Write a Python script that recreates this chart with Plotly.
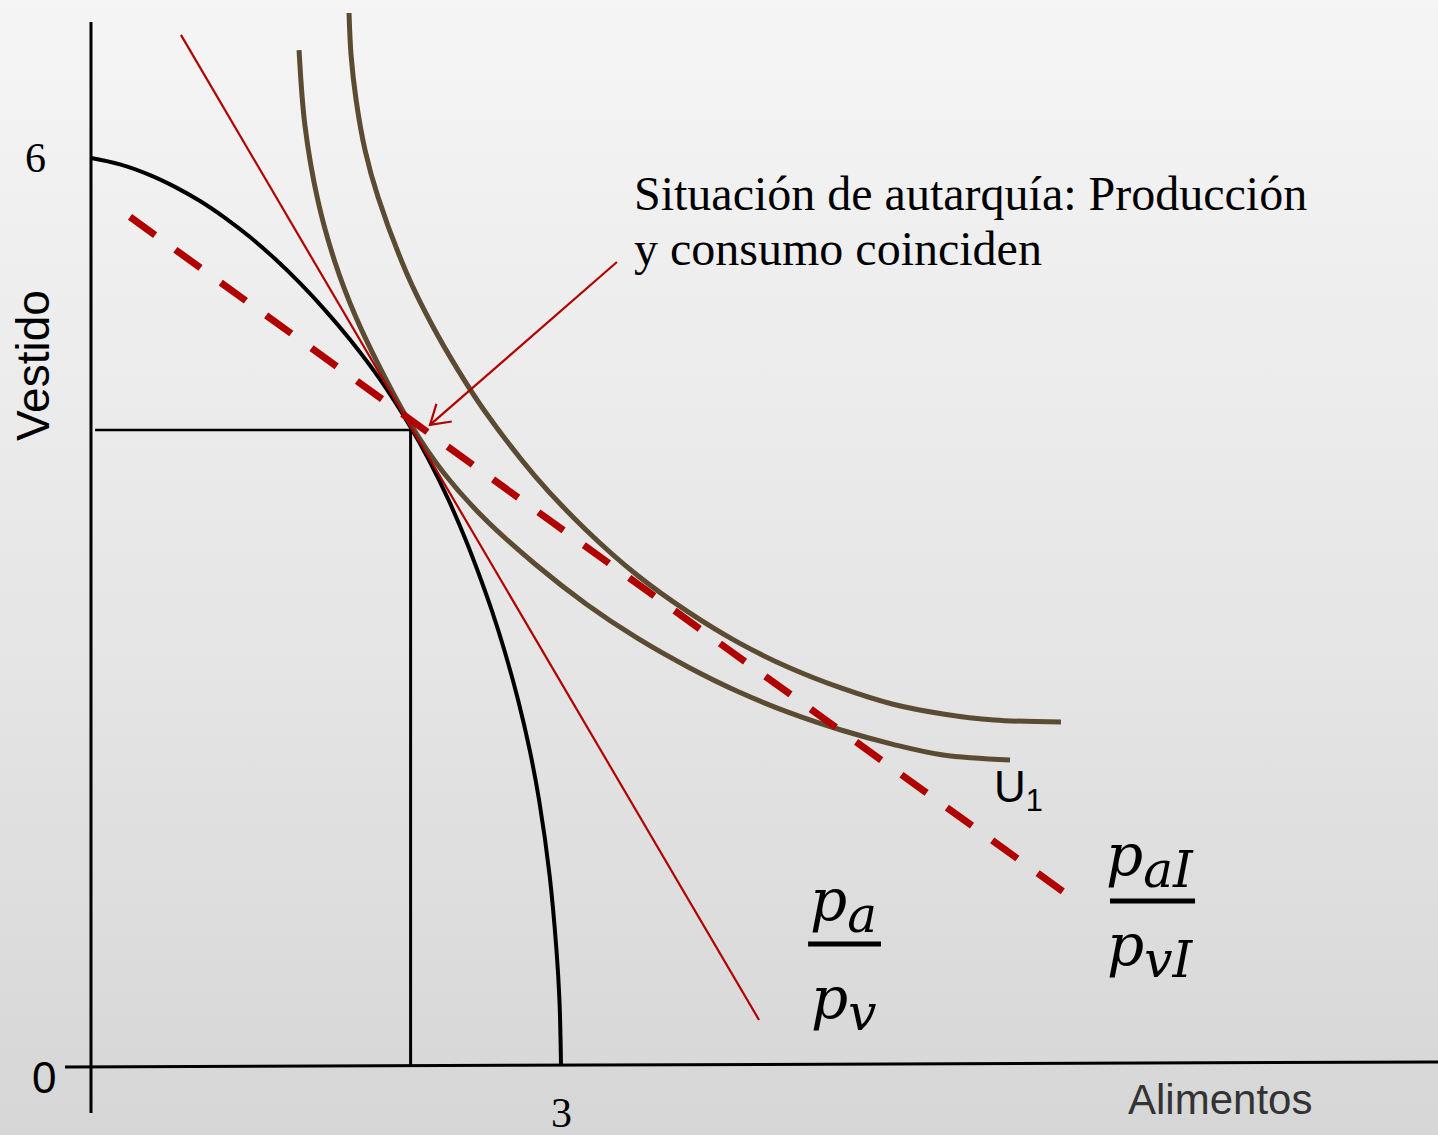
import math
import plotly.graph_objects as go

# ---------------- data (in axis units) ----------------
# Production possibilities frontier (Alimentos, Vestido)
ppf_x = [0.0, 0.185, 0.377, 0.536, 0.696, 0.855, 1.015, 1.174, 1.334, 1.494, 1.653, 1.845, 2.043,
         2.157, 2.282, 2.392, 2.478, 2.557, 2.638, 2.726, 2.800, 2.860, 2.927, 2.971, 2.990, 3.0]
ppf_y = [6.0, 5.958, 5.887, 5.809, 5.715, 5.604, 5.477, 5.333, 5.172, 4.994, 4.799, 4.535, 4.214,
         4.002, 3.738, 3.473, 3.241, 3.010, 2.745, 2.414, 2.084, 1.753, 1.257, 0.761, 0.430, 0.0]

# Indifference curve U1 (tangent at autarky point)
u1_x = [1.328, 1.366, 1.449, 1.557, 1.685, 1.845, 2.043, 2.247, 2.508, 2.834, 3.160, 3.485, 3.811,
        4.136, 4.462, 4.787, 5.113, 5.438, 5.866]
u1_y = [6.714, 6.212, 5.715, 5.312, 4.961, 4.611, 4.234, 3.923, 3.618, 3.314, 3.050, 2.825, 2.633,
        2.467, 2.329, 2.216, 2.123, 2.051, 2.018]

# Higher indifference curve
u2_x = [1.647, 1.660, 1.692, 1.749, 1.832, 2.017, 2.177, 2.342, 2.508, 2.834, 3.160, 3.485, 3.811,
        4.136, 4.462, 4.787, 5.113, 5.438, 5.764, 6.191]
u2_y = [6.959, 6.681, 6.384, 6.053, 5.742, 5.233, 4.895, 4.598, 4.333, 3.896, 3.539, 3.241, 2.997,
        2.792, 2.626, 2.494, 2.388, 2.322, 2.282, 2.269]

# Price lines
price_a_x = [0.574, 4.264]      # pa/pv (thin red)
price_a_y = [6.814, 0.298]
price_i_x = [0.249, 6.217]      # paI/pvI (dashed red)
price_i_y = [5.610, 1.138]

# Autarky point
aut_x = 2.04
aut_y = 4.2

# Axis ticks
tick_x_val, tick_x_label = 3, "3"
tick_y_val, tick_y_label = 6, "6"

# Arrow (tail -> tip)
arrow_tail = (3.357, 5.312)
arrow_tip = (2.164, 4.234)

# ---------------- layout geometry ----------------
W, H = 1438, 1135
xr = [-0.5808, 8.5977]
yr = [-0.4631, 7.0451]
sx = W / (xr[1] - xr[0])
sy = H / (yr[1] - yr[0])

RED = "#b00000"
BROWN = "#5b4b33"

fig = go.Figure()

# background gradient
fig.add_trace(go.Scatter(
    x=[xr[0], xr[1], xr[1], xr[0], xr[0]],
    y=[yr[0], yr[0], yr[1], yr[1], yr[0]],
    mode="lines", line=dict(width=0), fill="toself",
    fillgradient=dict(type="vertical",
                      colorscale=[[0, "#d6d6d6"], [0.45, "#e6e6e6"], [1, "#f5f5f5"]]),
    hoverinfo="skip", showlegend=False))

def line(x, y, color, width, dash=None, shape="linear"):
    fig.add_trace(go.Scatter(x=x, y=y, mode="lines",
                             line=dict(color=color, width=width, dash=dash, shape=shape, smoothing=1.0),
                             hoverinfo="skip", showlegend=False))

# axes
line([0, 0], [-0.318, 6.899], "black", 3)
line([-0.166, xr[1]], [-0.013, 0.02], "black", 3)

# autarky guides
line([0.026, aut_x], [aut_y, aut_y], "black", 2.5)
line([aut_x, aut_x], [0, aut_y], "black", 3)

# curves
line(ppf_x, ppf_y, "black", 4, shape="spline")
line(u1_x, u1_y, BROWN, 5, shape="spline")
line(u2_x, u2_y, BROWN, 5, shape="spline")
line(price_a_x, price_a_y, RED, 2.2)
line(price_i_x, price_i_y, RED, 7, dash="31px,25px")

# arrow with open head
dx = (arrow_tail[0] - arrow_tip[0]) * sx
dy = (arrow_tail[1] - arrow_tip[1]) * sy
L = math.hypot(dx, dy)
ux, uy = dx / L, dy / L
hl, ang = 22, math.radians(32)
heads = []
for s in (1, -1):
    c, si = math.cos(s * ang), math.sin(s * ang)
    hx = ux * c - uy * si
    hy = ux * si + uy * c
    heads.append((arrow_tip[0] + hx * hl / sx, arrow_tip[1] + hy * hl / sy))
line([arrow_tail[0], arrow_tip[0], None, heads[0][0], arrow_tip[0], heads[1][0]],
     [arrow_tail[1], arrow_tip[1], None, heads[0][1], arrow_tip[1], heads[1][1]],
     RED, 2.2)

SERIF = "Liberation Serif"
SANS = "Liberation Sans"
MATH = "DejaVu Serif"

ann = []
def text(x, y, t, font, size, color="black", xanchor="center", yanchor="middle", angle=0):
    ann.append(dict(x=x, y=y, text=t, showarrow=False, xanchor=xanchor, yanchor=yanchor,
                    align="left", textangle=angle, font=dict(family=font, size=size, color=color)))

text(-0.357, tick_y_val, tick_y_label, SERIF, 42)
text(-0.30, -0.086, "0", SANS, 44)
text(tick_x_val, -0.318, tick_x_label, SERIF, 42)
text(-0.370, 4.624, "Vestido", SANS, 46, angle=-90)
text(7.206, -0.225, "Alimentos", SANS, 42, color="#333333")
text(5.917, 1.819, "U<sub>1</sub>", SANS, 44)
text(3.453, 5.768, "Situación de autarquía: Producción", SERIF, 48, xanchor="left")
text(3.453, 5.398, "y consumo coinciden", SERIF, 48, xanchor="left")

# fractions
SUB = "<sub><span style='font-size:50px'><i>%s</i></span></sub>"
text(4.800, 1.058, "<i>p</i>" + SUB % "a", MATH, 58)
text(4.800, 0.410, "<i>p</i>" + SUB % "v", MATH, 58)
text(6.759, 1.356, "<i>p</i>" + SUB % "aI", MATH, 58)
text(6.759, 0.761, "<i>p</i>" + SUB % "vI", MATH, 58)
line([4.577, 5.042], [0.800, 0.800], "black", 5)
line([6.504, 7.047], [1.085, 1.085], "black", 5)

fig.update_layout(
    width=W, height=H,
    margin=dict(l=0, r=0, t=0, b=0),
    paper_bgcolor="#e6e6e6", plot_bgcolor="rgba(0,0,0,0)",
    xaxis=dict(range=xr, visible=False, fixedrange=True),
    yaxis=dict(range=yr, visible=False, fixedrange=True),
    annotations=ann, showlegend=False,
)

fig.write_html("out.html", config={"displayModeBar": False},
               post_script="document.body.style.margin='0';document.body.style.overflow='hidden';")
